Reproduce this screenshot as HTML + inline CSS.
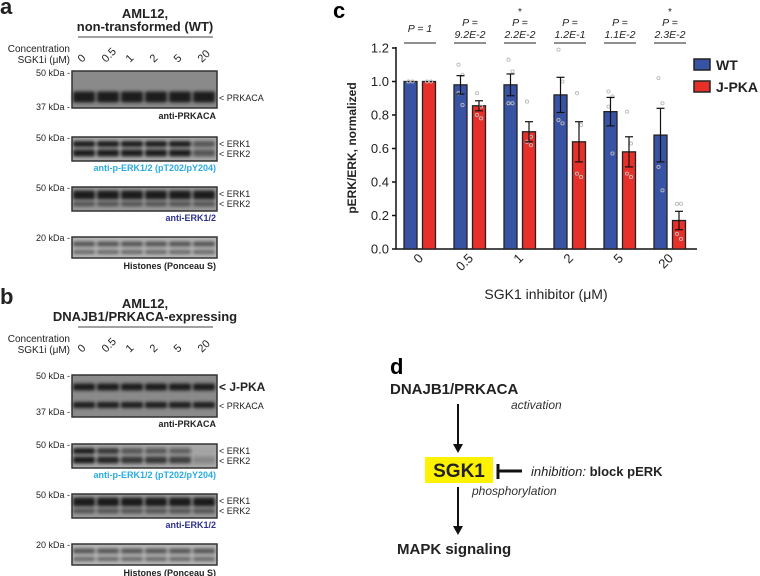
<!DOCTYPE html>
<html><head><meta charset="utf-8"><style>
body{margin:0;background:#fff}
svg{display:block;font-family:"Liberation Sans",Arial,sans-serif}
</style></head><body>
<svg id="fig" width="760" height="576" viewBox="0 0 760 576" xmlns="http://www.w3.org/2000/svg">
<defs><filter id="bl" x="-10%" y="-80%" width="120%" height="260%"><feGaussianBlur stdDeviation="1.6"/></filter></defs>
<g id="blots"></g>

<text x="333" y="18" font-size="22" font-weight="bold">c</text>
<g id="chart"></g>

<g>
<text x="390" y="374" font-size="22" font-weight="bold">d</text>
<text x="390" y="394" font-size="15" font-weight="bold" fill="#222">DNAJB1/PRKACA</text>
<text x="511" y="409" font-size="12" font-style="italic" fill="#333">activation</text>
<line x1="458" y1="404" x2="458" y2="446" stroke="#111" stroke-width="2"/>
<polygon points="453,444 463,444 458,453" fill="#111"/>
<rect x="425" y="457" width="68" height="26" fill="#fff200"/>
<text x="459" y="477" font-size="19" font-weight="bold" fill="#222" text-anchor="middle">SGK1</text>
<line x1="498" y1="464" x2="498" y2="479" stroke="#111" stroke-width="3"/>
<line x1="498" y1="471" x2="522" y2="471" stroke="#111" stroke-width="3"/>
<text x="531" y="476" font-size="13" fill="#222"><tspan font-style="italic">inhibition:</tspan> <tspan font-weight="bold">block pERK</tspan></text>
<text x="472" y="495" font-size="12" font-style="italic" fill="#333">phosphorylation</text>
<line x1="458" y1="487" x2="458" y2="528" stroke="#111" stroke-width="2"/>
<polygon points="453,526 463,526 458,535" fill="#111"/>
<text x="397" y="554" font-size="15" font-weight="bold" fill="#222">MAPK signaling</text>
</g>
</svg>
<script>
const categories = ["0","0.5","1","2","5","20"];
const wtMeans = [1.0,0.98,0.98,0.92,0.82,0.68];
const wtErr = [0,0.055,0.065,0.105,0.085,0.16];
const jpkaMeans = [1.0,0.855,0.70,0.64,0.58,0.17];
const jpkaErr = [0,0.03,0.06,0.12,0.09,0.055];
const wtPoints = [[1,1,1],[1.1,1.04,0.93,0.86],[1.13,1.06,0.87,0.87],[1.19,1.0,0.77,0.75],[0.94,0.91,0.85,0.57],[1.02,0.87,0.49,0.35]];
const jpkaPoints = [[1,1],[0.93,0.85,0.8,0.78],[0.88,0.67,0.64,0.62],[0.93,0.74,0.45,0.43],[0.82,0.63,0.45,0.43],[0.27,0.27,0.09,0.06]];
const pValues = ["P = 1","P = 9.2E-2","P = 2.2E-2","P = 1.2E-1","P = 1.1E-2","P = 2.3E-2"];
const significant = [false,false,true,false,false,true];
const yTicks = [0,0.2,0.4,0.6,0.8,1.0,1.2];

const NS="http://www.w3.org/2000/svg";
function mk(tag,attrs,parent,text){const e=document.createElementNS(NS,tag);for(const k in attrs)e.setAttribute(k,attrs[k]);if(text!==undefined)e.textContent=text;parent.appendChild(e);return e;}
const chart=document.getElementById('chart');
const y0=249,y1=48,xL=396,xR=697;
function yS(v){return y0-(v/1.2)*(y0-y1);}
function gx(i){return 420+i*50;}
mk('line',{x1:xL,y1:y0,x2:xR,y2:y0,stroke:'#111','stroke-width':1.5},chart);
mk('line',{x1:xL,y1:y0,x2:xL,y2:y1-1,stroke:'#111','stroke-width':1.5},chart);
yTicks.forEach(t=>{
  mk('line',{x1:xL-4,y1:yS(t),x2:xL,y2:yS(t),stroke:'#111','stroke-width':1.5},chart);
  const tl=mk('text',{x:xL-7,y:yS(t)+4.5,'font-size':13,'text-anchor':'end',fill:'#222'},chart,t.toFixed(1));
  
  
});
const yt=mk('text',{x:0,y:0,'font-size':12,'font-weight':'bold','text-anchor':'middle',fill:'#222',transform:'translate(356,148) rotate(-90)'},chart,'pERK/ERK, normalized');


const xt=mk('text',{x:546,y:299,'font-size':14,'text-anchor':'middle',fill:'#222'},chart,'SGK1 inhibitor (μM)');


function drawBar(cx,v,e,fill,pts,name){
  const r=mk('rect',{x:cx-6.5,y:yS(v),width:13,height:y0-yS(v),fill:fill,stroke:'#222','stroke-width':1.3},chart);
  
  
  pts.forEach((p,k)=>{
    const d=mk('circle',{cx:cx+(k%2?2:-2),cy:yS(p),r:1.6,fill:'none',stroke:'#bbb','stroke-width':0.9},chart);
    
    
  });
  if(e>0){
    mk('line',{x1:cx,y1:yS(v+e),x2:cx,y2:yS(v-e),stroke:'#111','stroke-width':1.2},chart);
    mk('line',{x1:cx-4,y1:yS(v+e),x2:cx+4,y2:yS(v+e),stroke:'#111','stroke-width':1.2},chart);
    mk('line',{x1:cx-4,y1:yS(v-e),x2:cx+4,y2:yS(v-e),stroke:'#111','stroke-width':1.2},chart);
  }
}
categories.forEach((c,i)=>{
  const g=gx(i);
  drawBar(g-9.5,wtMeans[i],wtErr[i],'#3953a4',wtPoints[i],'bar-wt-'+c);
  drawBar(g+9,jpkaMeans[i],jpkaErr[i],'#e8302a',jpkaPoints[i],'bar-jpka-'+c);
  const tl=mk('text',{x:0,y:0,'font-size':13,'text-anchor':'end',fill:'#222',transform:`translate(${g+4},${y0+10}) rotate(-45)`},chart,c);
  
  
  mk('line',{x1:g-16,y1:43,x2:g+16,y2:43,stroke:'#222','stroke-width':1},chart);
  const parts=pValues[i].split('= ');
  let pt;
  if(i===0){pt=mk('text',{x:g,y:32,'font-size':10.5,'font-style':'italic','text-anchor':'middle',fill:'#222'},chart,pValues[i]);}
  else{pt=mk('text',{x:g,'font-size':10.5,'font-style':'italic','text-anchor':'middle',fill:'#222'},chart);
    mk('tspan',{x:g,y:26},pt,parts[0]+'=');mk('tspan',{x:g,y:38},pt,parts[1]);}
  
  
  if(significant[i]){const s=mk('text',{x:g,y:15,'font-size':10,'text-anchor':'middle',fill:'#222'},chart,'*');
    
    }
});
[['WT','#3953a4',65],['J-PKA','#e8302a',87]].forEach(([n,c,y])=>{
  const g=mk('g',{},chart);
  
  
  mk('rect',{x:694,y:y-6,width:16,height:11,fill:c,stroke:'#222','stroke-width':1.5},g);
  mk('text',{x:716,y:y+5,'font-size':14,'font-weight':'bold',fill:'#222'},g,n);
});

const lanes=["0","0.5","1","2","5","20"];
const bl=document.getElementById('blots');
const laneX=[84,108,132,156,180,204];
function txt(p,x,y,s,t,opts,name){const e=mk('text',Object.assign({x:x,y:y,'font-size':s,fill:'#222'},opts||{}),p,t);
  
  return e;}
function blot(p,y,h,bg,bands,name){
  const g=mk('g',{},p);
  
  
  mk('rect',{x:72,y:y,width:145,height:h,fill:bg},g);
  const bg2=mk('g',{filter:'url(#bl)'},g);
  bands.forEach(b=>laneX.forEach((lx,i)=>{const op=b.op?b.op[i]:1;
    mk('rect',{x:lx-11,y:y+b.dy-b.h/2,width:22,height:b.h,rx:2,fill:b.c||'#1a1a1a','fill-opacity':op},bg2);}));
  mk('rect',{x:72,y:y,width:145,height:h,fill:'none',stroke:'#333','stroke-width':1.5},g);
}
function panel(oy,letter,title2,jpka,perkOp){
  const p=mk('g',{},bl);
  
  
  txt(p,0,oy+14,22,letter,{'font-weight':'bold'},'panel-label-'+letter);
  txt(p,145,oy+18,13,'AML12,',{'font-weight':'bold','text-anchor':'middle'},'blot-title');
  txt(p,145,oy+31,13,title2,{'font-weight':'bold','text-anchor':'middle'},'blot-subtitle');
  mk('line',{x1:78,y1:oy+37,x2:213,y2:oy+37,stroke:'#444','stroke-width':1},p);
  txt(p,70,oy+52,10,'Concentration',{'text-anchor':'end'},'concentration-label');
  txt(p,70,oy+63,10,'SGK1i (μM)',{'text-anchor':'end'},'sgk1i-label');
  lanes.forEach((l,i)=>txt(p,laneX[i]-2,oy+63,11,l,{transform:`rotate(-45 ${laneX[i]-2} ${oy+63})`},'lane-label'));
  let y=oy+71;
  if(!jpka){
    blot(p,y,37,'#8a8a8a',[{dy:26,h:11}],'prkaca-blot');
    txt(p,70,y+5,9,'50 kDa -',{'text-anchor':'end'},'mw-marker');
    txt(p,70,y+39,9,'37 kDa -',{'text-anchor':'end'},'mw-marker');
    txt(p,219,y+30,9,'< PRKACA',{},'band-label');
    txt(p,216,y+48,9,'anti-PRKACA',{'font-weight':'bold','text-anchor':'end'},'antibody-label');
    y+=66;
  } else {
    y=oy+85;
    blot(p,y,42,'#8a8a8a',[{dy:12,h:7},{dy:30,h:6}],'prkaca-blot');
    txt(p,70,y+4,9,'50 kDa -',{'text-anchor':'end'},'mw-marker');
    txt(p,70,y+40,9,'37 kDa -',{'text-anchor':'end'},'mw-marker');
    txt(p,219,y+16,12,'< J-PKA',{'font-weight':'bold'},'band-label');
    txt(p,219,y+34,9,'< PRKACA',{},'band-label');
    txt(p,216,y+52,9,'anti-PRKACA',{'font-weight':'bold','text-anchor':'end'},'antibody-label');
    y+=69;
  }
  blot(p,y,24,'#a8a8a8',[{dy:7,h:6,op:perkOp[0]},{dy:16,h:7,op:perkOp[1]}],'perk-blot');
  txt(p,70,y+4,9,'50 kDa -',{'text-anchor':'end'},'mw-marker');
  txt(p,219,y+10,9,'< ERK1',{},'band-label');
  txt(p,219,y+20,9,'< ERK2',{},'band-label');
  txt(p,216,y+34,9,'anti-p-ERK1/2 (pT202/pY204)',{'font-weight':'bold','text-anchor':'end',fill:'#29abe2'},'antibody-label');
  y+=50;
  blot(p,y,24,'#9a9a9a',[{dy:8,h:9},{dy:17,h:5,c:'#555'}],'erk-blot');
  txt(p,70,y+4,9,'50 kDa -',{'text-anchor':'end'},'mw-marker');
  txt(p,219,y+10,9,'< ERK1',{},'band-label');
  txt(p,219,y+20,9,'< ERK2',{},'band-label');
  txt(p,216,y+34,9,'anti-ERK1/2',{'font-weight':'bold','text-anchor':'end',fill:'#2e3192'},'antibody-label');
  y+=50;
  blot(p,y,21,'#b5b5b5',[{dy:7,h:5,c:'#555'},{dy:15,h:4,c:'#666'}],'histone-blot');
  txt(p,70,y+4,9,'20 kDa -',{'text-anchor':'end'},'mw-marker');
  txt(p,216,y+32,9,'Histones (Ponceau S)',{'font-weight':'bold','text-anchor':'end'},'stain-label');
}
panel(0,'a','non-transformed (WT)',false,[[1,1,1,1,1,0.6],[1,1,1,1,1,0.6]]);
panel(290,'b','DNAJB1/PRKACA-expressing',true,[[1,0.8,0.6,0.55,0.5,0.03],[1,0.9,0.8,0.8,0.75,0.25]]);
</script>
</body></html>
